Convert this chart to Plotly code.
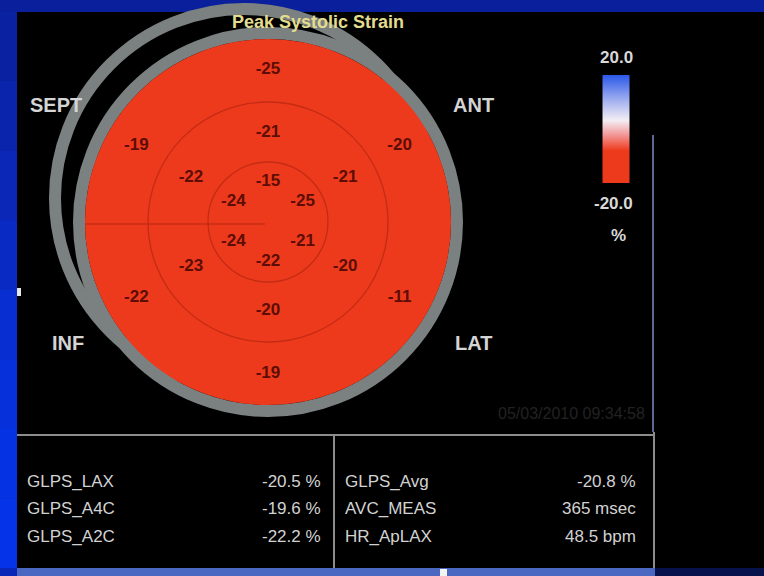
import plotly.graph_objects as go

# Peak systolic longitudinal strain (%) per wall, 18-segment bull's-eye
walls = ["ANT_SEPT", "ANT", "LAT", "POST", "INF", "SEPT"]
basal = [-25, -20, -11, -19, -22, -19]
mid = [-21, -21, -20, -20, -23, -22]
apical = [-15, -25, -21, -22, -24, -24]

# Global strain summary table
left_labels = ["GLPS_LAX", "GLPS_A4C", "GLPS_A2C"]
left_values = ["-20.5 %", "-19.6 %", "-22.2 %"]
right_labels = ["GLPS_Avg", "AVC_MEAS", "HR_ApLAX"]
right_values = ["-20.8 %", "365 msec", "48.5 bpm"]

scale_min, scale_max = -20.0, 20.0
title_text = "Peak Systolic Strain"
date_text = "05/03/2010 09:34:58"

# ---- geometry (pixels) ----
W, H = 764, 576
CX, CY = 268, 222          # bull's-eye centre
R = 183                    # outer radius of the basal ring
ring_base = [0, 60, 120]
ring_width = [60, 60, R - 120]
label_r = [40, 89, 152]
wall_theta = {"ANT_SEPT": 90, "ANT": 30, "LAT": -30, "POST": -90, "INF": -150, "SEPT": 150}


def px(x):
    return x / W


def py(y):
    return 1 - y / H


colorscale = [
    [0.0, "#ee3a1c"], [0.3, "#ee3a1c"], [0.45, "#f29a9a"],
    [0.58, "#f3eef4"], [0.75, "#a9b5f0"], [1.0, "#2a58e8"],
]

fig = go.Figure()

thetas = [wall_theta[w] for w in walls]
rings = [apical, mid, basal]
for i, vals in enumerate(rings):
    fig.add_trace(go.Barpolar(
        r=[ring_width[i]] * len(vals),
        base=[ring_base[i]] * len(vals),
        theta=thetas,
        width=[60] * len(vals),
        marker=dict(
            color=vals, colorscale=colorscale, cmin=scale_min, cmax=scale_max,
            line=dict(width=1.2, color=vals, colorscale=colorscale,
                      cmin=scale_min, cmax=scale_max),
            showscale=(i == 0),
            colorbar=dict(
                x=px(616), xanchor="center", y=py(129), yanchor="middle",
                len=108 / H, lenmode="fraction", thickness=27,
                xpad=0, ypad=0, outlinewidth=0, showticklabels=False, ticks="",
            ),
        ),
        hoverinfo="skip",
        showlegend=False,
    ))
    fig.add_trace(go.Scatterpolar(
        r=[label_r[i]] * len(vals),
        theta=thetas,
        mode="text",
        text=[f"{v:d}" for v in vals],
        textfont=dict(family="Liberation Sans", size=17, color="#5c0d04", weight="bold"),
        hoverinfo="skip",
        showlegend=False,
    ))

shapes = []
# blue slide frame and black panel
shapes.append(dict(type="rect", xref="paper", yref="paper", x0=px(17), x1=px(W), y0=py(568), y1=py(12),
                   fillcolor="#000000", line=dict(width=0), layer="below"))
left_band = ["#0a22a2", "#0a24ac", "#0a27b8", "#0a2ac4", "#082dd0", "#0630da", "#0532e2", "#0534e8"]
n = len(left_band)
for k, c in enumerate(left_band):
    shapes.append(dict(type="rect", xref="paper", yref="paper", x0=0, x1=px(17),
                       y0=py(12 + 556 * (k + 1) / n), y1=py(12 + 556 * k / n),
                       fillcolor=c, line=dict(width=0), layer="below"))
shapes.append(dict(type="rect", xref="paper", yref="paper", x0=0, x1=1, y0=py(12), y1=1,
                   fillcolor="#0a1f9c", line=dict(width=0), layer="below"))
shapes.append(dict(type="rect", xref="paper", yref="paper", x0=px(17), x1=px(655), y0=0, y1=py(568),
                   fillcolor="#4a68c2", line=dict(width=0), layer="below"))
shapes.append(dict(type="rect", xref="paper", yref="paper", x0=px(655), x1=1, y0=0, y1=py(568),
                   fillcolor="#07124c", line=dict(width=0), layer="below"))
shapes.append(dict(type="rect", xref="paper", yref="paper", x0=px(440), x1=px(447), y0=0, y1=py(569),
                   fillcolor="#f4f4f4", line=dict(width=0), layer="below"))
shapes.append(dict(type="rect", xref="paper", yref="paper", x0=px(17), x1=px(21), y0=py(296), y1=py(288),
                   fillcolor="#e8e8e8", line=dict(width=0), layer="below"))

# grey rim (offset shadow ring, then the main rim)
ring_col = "#7b8080"
for (ox, oy) in [(CX - 24, CY - 24), (CX, CY)]:
    rr = R + 6
    shapes.append(dict(type="circle", xref="paper", yref="paper",
                       x0=px(ox - rr), x1=px(ox + rr), y0=py(oy + rr), y1=py(oy - rr),
                       line=dict(color=ring_col, width=12), layer="below"))

# ring separators and septal divider
for rr in (60, 120):
    shapes.append(dict(type="circle", xref="paper", yref="paper",
                       x0=px(CX - rr), x1=px(CX + rr), y0=py(CY + rr), y1=py(CY - rr),
                       line=dict(color="#c42c14", width=1.3), layer="above"))
shapes.append(dict(type="line", xref="paper", yref="paper", x0=px(CX - R), x1=px(CX - 3),
                   y0=py(CY + 2), y1=py(CY + 2), line=dict(color="#b22810", width=1.2), layer="above"))

# scale guide line and table frame
shapes.append(dict(type="line", xref="paper", yref="paper", x0=px(653), x1=px(653), y0=py(135), y1=py(432),
                   line=dict(color="#5a6a92", width=2)))
tbl = "#8c8c8c"
shapes.append(dict(type="line", xref="paper", yref="paper", x0=px(17), x1=px(655), y0=py(435), y1=py(435),
                   line=dict(color=tbl, width=2)))
shapes.append(dict(type="line", xref="paper", yref="paper", x0=px(334), x1=px(334), y0=py(435), y1=py(568),
                   line=dict(color=tbl, width=2)))
shapes.append(dict(type="line", xref="paper", yref="paper", x0=px(654), x1=px(654), y0=py(432), y1=py(568),
                   line=dict(color=tbl, width=2)))

ann = []


def text(x, y, s, size, color, xanchor="center", bold=False, family="Liberation Sans"):
    ann.append(dict(x=px(x), y=py(y), xref="paper", yref="paper", text=s, showarrow=False,
                    xanchor=xanchor, yanchor="middle",
                    font=dict(family=family, size=size, color=color, weight="bold" if bold else "normal")))


text(318, 22, title_text, 18, "#e2dc8e", bold=True)
for s, x, y in [("SEPT", 56, 105), ("ANT", 473, 105), ("INF", 68, 343), ("LAT", 473, 343)]:
    text(x, y, s, 20, "#d4d4d4", bold=True)
text(616, 57, f"{scale_max:.1f}", 17, "#d8d8d8", bold=True)
text(613, 203, f"{scale_min:.1f}", 17, "#d8d8d8", bold=True)
text(618, 235, "%", 17, "#d8d8d8", bold=True)
text(647, 413, date_text, 16, "#222222", xanchor="right")

rows_y = [481, 508, 536]
for i, y in enumerate(rows_y):
    text(25, y, left_labels[i], 17, "#d2d2d2", xanchor="left")
    text(323, y, left_values[i], 17, "#d2d2d2", xanchor="right")
    text(343, y, right_labels[i], 17, "#d2d2d2", xanchor="left")
    text(638, y, right_values[i], 17, "#d2d2d2", xanchor="right")

fig.update_layout(
    width=W, height=H,
    margin=dict(l=0, r=0, t=0, b=0),
    paper_bgcolor="#0a26b8",
    plot_bgcolor="rgba(0,0,0,0)",
    polar=dict(
        domain=dict(x=[px(CX - R), px(CX + R)], y=[py(CY + R), py(CY - R)]),
        bgcolor="rgba(0,0,0,0)",
        radialaxis=dict(range=[0, R], visible=False),
        angularaxis=dict(visible=False, rotation=0, direction="counterclockwise"),
        bargap=0,
    ),
    shapes=shapes,
    annotations=ann,
    showlegend=False,
)

fig.write_html("out.html")
